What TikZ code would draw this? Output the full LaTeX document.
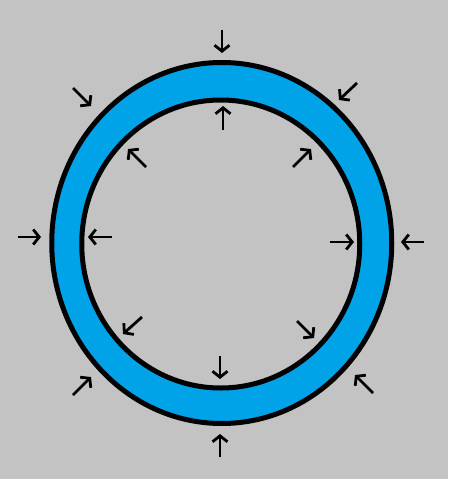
\documentclass[tikz,border=0pt]{standalone}
\usetikzlibrary{arrows.meta}
\definecolor{bg}{RGB}{195,195,195}
\definecolor{ringblue}{RGB}{0,162,232}
\begin{document}
\begin{tikzpicture}[x=1pt,y=-1pt,
  ringline/.style={line width=5pt,draw=black},
  arr/.style={line width=2.8pt,-{Straight Barb[length=6pt,width=15pt]}}]
\fill[bg] (0,0) rectangle (448,479);
\useasboundingbox (0,0) rectangle (448,479);
\coordinate (co) at (221.75,243);
\coordinate (ci) at (220.75,244);
\fill[ringblue,even odd rule] (co) ellipse [x radius=170, y radius=180.5]
  (ci) ellipse [x radius=139, y radius=144];
\draw[ringline] (co) ellipse [x radius=170, y radius=180.5];
\draw[ringline] (ci) ellipse [x radius=139, y radius=144];
% outer arrows (pointing inward)
\coordinate (o1s) at (222,30);  \coordinate (o1e) at (222,53);
\coordinate (o2s) at (357,83);  \coordinate (o2e) at (339,100);
\coordinate (o3s) at (424,242); \coordinate (o3e) at (401,242);
\coordinate (o4s) at (373,393); \coordinate (o4e) at (355,375);
\coordinate (o5s) at (220,457); \coordinate (o5e) at (220,434);
\coordinate (o6s) at (73,395);  \coordinate (o6e) at (91,377);
\coordinate (o7s) at (18,237);  \coordinate (o7e) at (41,237);
\coordinate (o8s) at (73,88);   \coordinate (o8e) at (91,106);
\foreach \i in {1,...,8} \draw[arr] (o\i s) -- (o\i e);
% inner arrows (pointing outward)
\coordinate (i1s) at (223,130); \coordinate (i1e) at (223,106);
\coordinate (i2s) at (293,167); \coordinate (i2e) at (311,149);
\coordinate (i3s) at (330,242); \coordinate (i3e) at (354,242);
\coordinate (i4s) at (297,321); \coordinate (i4e) at (314,338);
\coordinate (i5s) at (220,356); \coordinate (i5e) at (220,379);
\coordinate (i6s) at (142,317); \coordinate (i6e) at (123,334);
\coordinate (i7s) at (112,237); \coordinate (i7e) at (88,237);
\coordinate (i8s) at (146,167); \coordinate (i8e) at (128,149);
\foreach \i in {1,...,8} \draw[arr] (i\i s) -- (i\i e);
\end{tikzpicture}
\end{document}
